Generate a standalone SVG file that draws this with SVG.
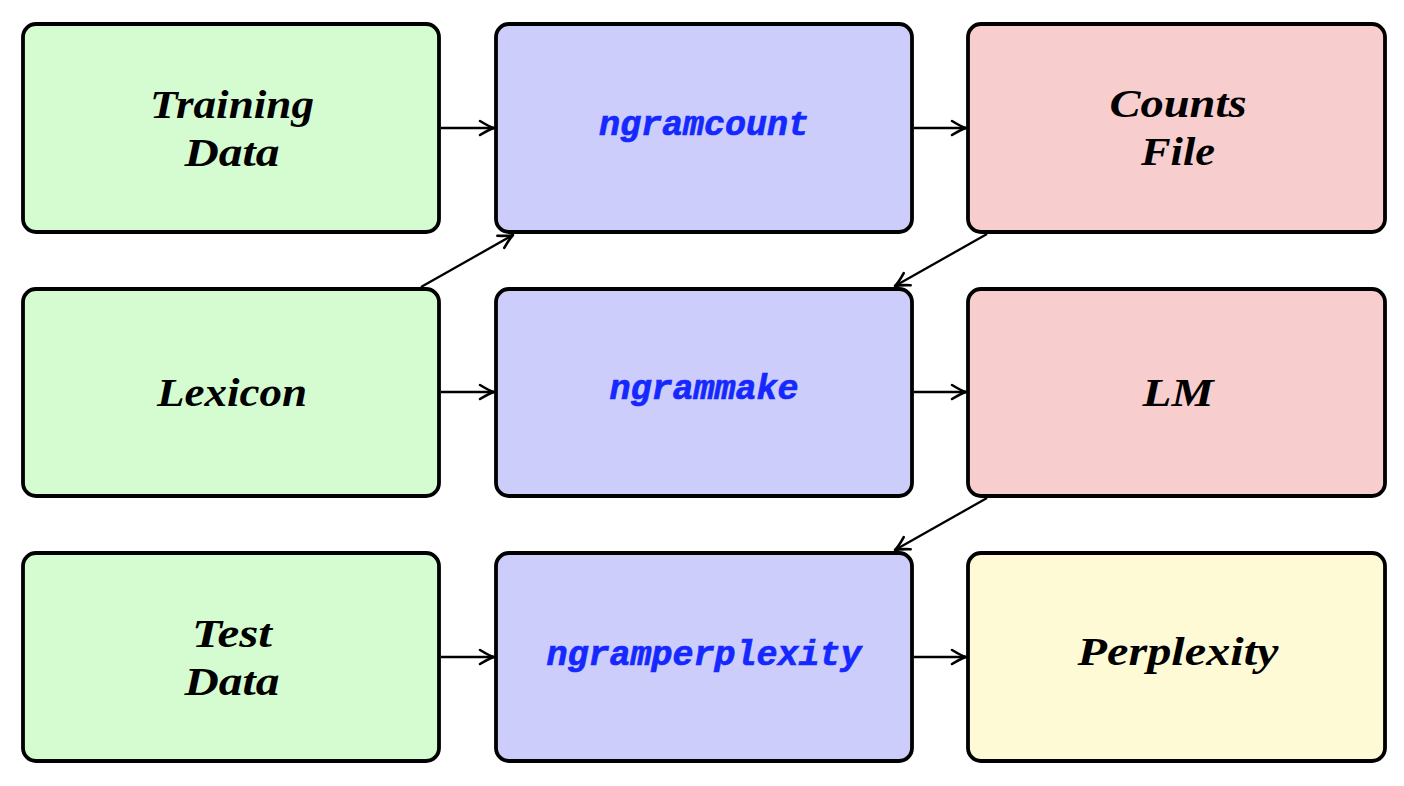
<svg xmlns="http://www.w3.org/2000/svg" width="1404" height="786" viewBox="0 0 1404 786">
  <style>
    .box { stroke: #000; stroke-width: 3.8; }
    .green { fill: #d5fcd0; }
    .blue { fill: #cccdfa; }
    .red { fill: #f7cdce; }
    .yellow { fill: #fefad5; }
    .lbl { font-family: "Liberation Serif", "Times New Roman", serif; font-weight: bold; font-style: italic; font-size: 40px; fill: #000; text-anchor: middle; }
    .cmd { font-family: "Liberation Mono", "Courier New", monospace; font-weight: bold; font-style: italic; font-size: 35px; fill: #1428ff; stroke: #1428ff; stroke-width: 0.7; text-anchor: middle; }
    .edge { stroke: #000; stroke-width: 2.3; fill: none; }
  </style>
  <defs>
    <marker id="arr" markerUnits="userSpaceOnUse" markerWidth="20" markerHeight="20" viewBox="-16 -10 20 20" refX="0" refY="0" orient="auto">
      <path d="M-14,-7 Q-5,-1.5 0,0 Q-5,1.5 -14,7" fill="none" stroke="#000" stroke-width="2.6" stroke-linecap="round" stroke-linejoin="round"/>
    </marker>
  </defs>
  <rect width="1404" height="786" fill="#fff"/>

  <g id="training-data">
    <rect class="box green" x="23" y="24" width="416" height="208" rx="13"/>
    <text class="lbl" x="232" y="118" textLength="164" lengthAdjust="spacingAndGlyphs">Training</text>
    <text class="lbl" x="232" y="166" textLength="95" lengthAdjust="spacingAndGlyphs">Data</text>
  </g>
  <g id="ngramcount">
    <rect class="box blue" x="496" y="24" width="416" height="208" rx="13"/>
    <text class="cmd" x="704" y="135">ngramcount</text>
  </g>
  <g id="counts-file">
    <rect class="box red" x="968" y="24" width="417" height="208" rx="13"/>
    <text class="lbl" x="1178" y="117" textLength="137" lengthAdjust="spacingAndGlyphs">Counts</text>
    <text class="lbl" x="1178" y="165" textLength="74" lengthAdjust="spacingAndGlyphs">File</text>
  </g>

  <g id="lexicon">
    <rect class="box green" x="23" y="289" width="416" height="207" rx="13"/>
    <text class="lbl" x="232" y="406" textLength="150" lengthAdjust="spacingAndGlyphs">Lexicon</text>
  </g>
  <g id="ngrammake">
    <rect class="box blue" x="496" y="289" width="416" height="207" rx="13"/>
    <text class="cmd" x="704" y="399">ngrammake</text>
  </g>
  <g id="lm">
    <rect class="box red" x="968" y="289" width="417" height="207" rx="13"/>
    <text class="lbl" x="1178" y="406" textLength="71" lengthAdjust="spacingAndGlyphs">LM</text>
  </g>

  <g id="test-data">
    <rect class="box green" x="23" y="553" width="416" height="208" rx="13"/>
    <text class="lbl" x="232" y="647" textLength="80" lengthAdjust="spacingAndGlyphs">Test</text>
    <text class="lbl" x="232" y="695" textLength="95" lengthAdjust="spacingAndGlyphs">Data</text>
  </g>
  <g id="ngramperplexity">
    <rect class="box blue" x="496" y="553" width="416" height="208" rx="13"/>
    <text class="cmd" x="704" y="665">ngramperplexity</text>
  </g>
  <g id="perplexity">
    <rect class="box yellow" x="968" y="553" width="417" height="208" rx="13"/>
    <text class="lbl" x="1178" y="665" textLength="201" lengthAdjust="spacingAndGlyphs">Perplexity</text>
  </g>

  <g id="connectors">
    <line class="edge" x1="441" y1="128" x2="494" y2="128" marker-end="url(#arr)"/>
    <line class="edge" x1="914" y1="128" x2="966" y2="128" marker-end="url(#arr)"/>
    <line class="edge" x1="421" y1="287" x2="513" y2="235" marker-end="url(#arr)"/>
    <line class="edge" x1="987" y1="234" x2="895" y2="286" marker-end="url(#arr)"/>
    <line class="edge" x1="441" y1="392" x2="494" y2="392" marker-end="url(#arr)"/>
    <line class="edge" x1="914" y1="392" x2="966" y2="392" marker-end="url(#arr)"/>
    <line class="edge" x1="987" y1="498" x2="895" y2="550" marker-end="url(#arr)"/>
    <line class="edge" x1="441" y1="657" x2="494" y2="657" marker-end="url(#arr)"/>
    <line class="edge" x1="914" y1="657" x2="966" y2="657" marker-end="url(#arr)"/>
  </g>
</svg>
